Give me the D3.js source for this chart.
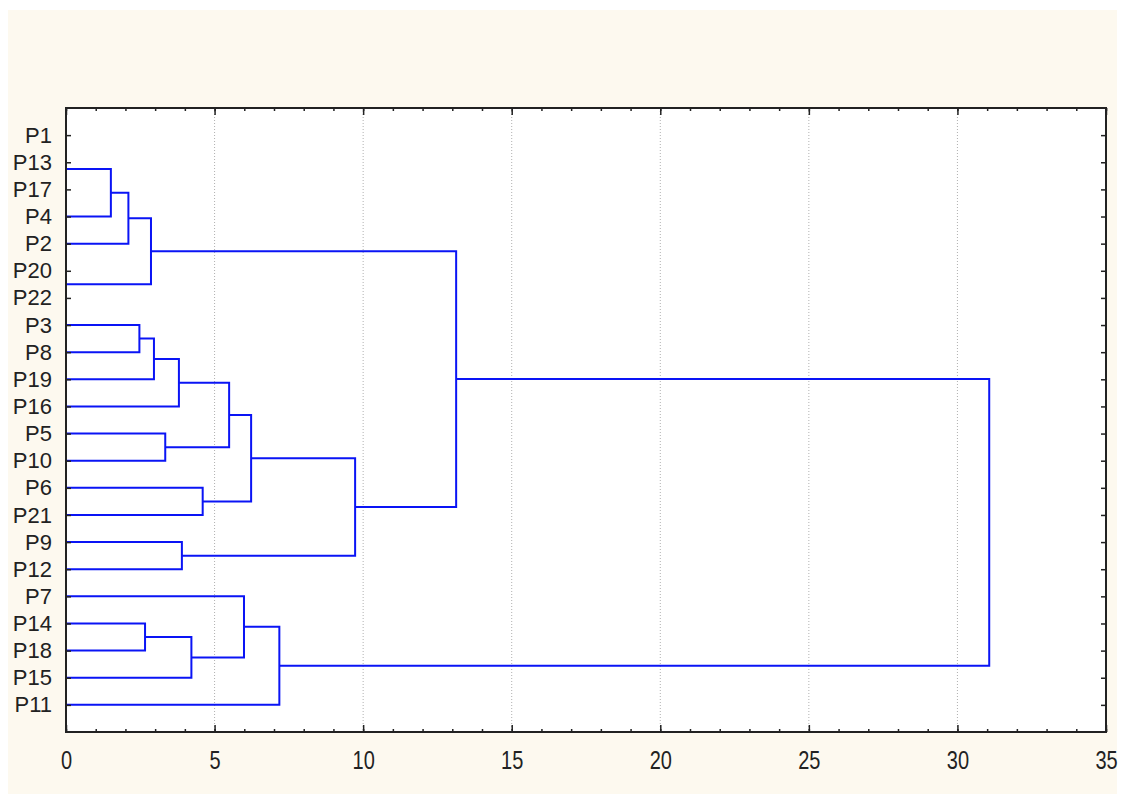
<!DOCTYPE html>
<html>
<head>
<meta charset="utf-8">
<script src="https://cdn.jsdelivr.net/npm/d3@7"></script>
<style>
  body { margin: 0; background: #fff; }
  svg { display: block; }
</style>
</head>
<body>
<div id="chart"></div>
<script>
// leaf order, top to bottom
const leaves = ["P1", "P13", "P17", "P4", "P2", "P20", "P22", "P3", "P8", "P19", "P16",
                "P5", "P10", "P6", "P21", "P9", "P12", "P7", "P14", "P18", "P15", "P11"];

// merges (N0, N1, ... in this order): two children and the linkage distance
const mergeLeft   = ["P1", "N0", "N1", "N2", "P20", "N3", "P3", "N6", "N7", "P5", "N8",
                     "P6", "N10", "P9", "N12", "N5", "P14", "N16", "P7", "N18", "N15"];
const mergeRight  = ["P13", "P17", "P4", "P2", "P22", "N4", "P8", "P19", "P16", "P10", "N9",
                     "P21", "N11", "P12", "N13", "N14", "P18", "P15", "N17", "P11", "N19"];
const mergeHeight = [0, 0, 1.51, 2.10, 0, 2.86, 2.47, 2.96, 3.80, 3.34, 5.49,
                     4.60, 6.23, 3.90, 9.73, 13.13, 2.66, 4.22, 5.99, 7.18, 31.07];

const xTicks = [0, 5, 10, 15, 20, 25, 30, 35];

const width = 1126;
const height = 794;
const margin = {top: 108, right: 20, bottom: 62, left: 66};

const x = d3.scaleLinear()
    .domain([0, 35])
    .range([margin.left, width - margin.right]);

const y = d3.scaleLinear()
    .domain([-1, leaves.length])
    .range([margin.top, height - margin.bottom]);

const svg = d3.select('#chart').append('svg')
    .attr('width', width)
    .attr('height', height);

// cream panel
svg.append('rect')
    .attr('x', 8).attr('y', 10)
    .attr('width', 1109).attr('height', 784)
    .attr('fill', '#fdf9ef');

svg.append('rect')
    .attr('x', x(0)).attr('y', y(-1))
    .attr('width', x(35) - x(0)).attr('height', y(leaves.length) - y(-1))
    .attr('fill', '#fff');

// grid
svg.append('g')
    .selectAll('line')
    .data(xTicks.slice(1, -1))
    .join('line')
    .attr('x1', d => x(d)).attr('x2', d => x(d))
    .attr('y1', y(-1)).attr('y2', y(leaves.length))
    .attr('stroke', '#b0b0b0')
    .attr('stroke-width', 1)
    .attr('stroke-dasharray', '1,2');

// node positions: leaves by row, merges at the middle of their children
const pos = {};
leaves.forEach((d, i) => pos[d] = {row: i, h: 0});
mergeHeight.forEach((h, i) => {
    const a = pos[mergeLeft[i]], b = pos[mergeRight[i]];
    pos['N' + i] = {row: (a.row + b.row) / 2, h: h, a: a, b: b};
});

const links = mergeHeight.map((h, i) => pos['N' + i]).filter(d => d.h > 0);

svg.append('g')
    .selectAll('path')
    .data(links)
    .join('path')
    .attr('fill', 'none')
    .attr('stroke', '#0a14f5')
    .attr('stroke-width', 2)
    .attr('d', d => `M${x(d.a.h)},${y(d.a.row)}H${x(d.h)}V${y(d.b.row)}H${x(d.b.h)}`);

// axes
const rows = d3.range(leaves.length);
const minor = d3.range(0, 36);

svg.append('g')
    .attr('transform', `translate(${x(0)},0)`)
    .call(d3.axisLeft(y).tickValues(rows).tickFormat(i => leaves[i])
        .tickSizeInner(-5).tickSizeOuter(0).tickPadding(14))
    .call(g => g.select('.domain').remove())
    .call(g => g.selectAll('text').attr('font-size', 22).attr('fill', '#222')
        .attr('font-family', '"Liberation Sans", Arial, sans-serif'));

svg.append('g')
    .attr('transform', `translate(${x(35)},0)`)
    .call(d3.axisRight(y).tickValues(rows).tickFormat('')
        .tickSizeInner(-5).tickSizeOuter(0))
    .call(g => g.select('.domain').remove());

svg.append('g')
    .attr('transform', `translate(0,${y(leaves.length)})`)
    .call(d3.axisBottom(x).tickValues(minor).tickFormat('')
        .tickSizeInner(-3).tickSizeOuter(0))
    .call(g => g.select('.domain').remove());

svg.append('g')
    .attr('transform', `translate(0,${y(leaves.length)})`)
    .call(d3.axisBottom(x).tickValues(xTicks).tickFormat(d3.format('d'))
        .tickSizeInner(-7).tickSizeOuter(0).tickPadding(19))
    .call(g => g.select('.domain').remove())
    .call(g => g.selectAll('text').attr('font-size', 25).attr('fill', '#222')
        .attr('font-family', '"Liberation Sans", Arial, sans-serif')
        .attr('transform', 'scale(0.8,1)'));

svg.append('g')
    .attr('transform', `translate(0,${y(-1)})`)
    .call(d3.axisTop(x).tickValues(minor).tickFormat('')
        .tickSizeInner(-3).tickSizeOuter(0))
    .call(g => g.select('.domain').remove());

svg.append('g')
    .attr('transform', `translate(0,${y(-1)})`)
    .call(d3.axisTop(x).tickValues(xTicks).tickFormat('')
        .tickSizeInner(-7).tickSizeOuter(0))
    .call(g => g.select('.domain').remove());

svg.selectAll('.tick line').attr('stroke', '#222').attr('stroke-width', 1.5);

// frame
svg.append('rect')
    .attr('x', x(0)).attr('y', y(-1))
    .attr('width', x(35) - x(0)).attr('height', y(leaves.length) - y(-1))
    .attr('fill', 'none')
    .attr('stroke', '#222')
    .attr('stroke-width', 2);
</script>
</body>
</html>
